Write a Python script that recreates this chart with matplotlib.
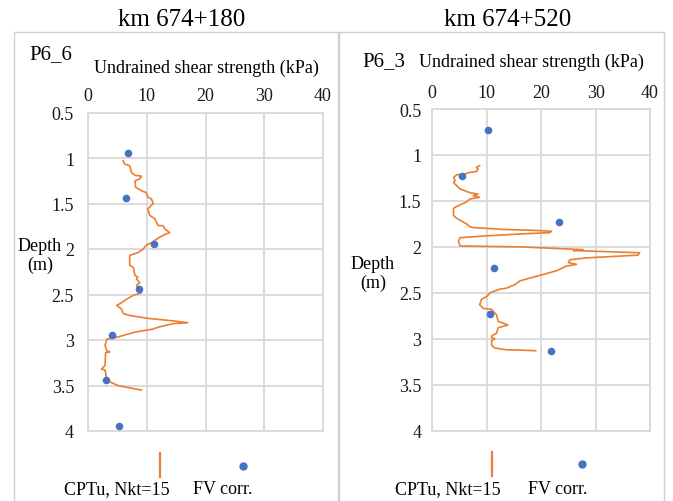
import matplotlib
matplotlib.use("Agg")
import matplotlib.pyplot as plt
from matplotlib.patches import Rectangle
from matplotlib.lines import Line2D

plt.rcParams['font.family'] = ['Liberation Serif', 'DejaVu Serif']

# ---------------- data ----------------
titles = ["km 674+180", "km 674+520"]
profiles = ["P6_6", "P6_3"]
x_label = "Undrained shear strength (kPa)"
y_label = "Depth\n(m)"
x_ticks = [0, 10, 20, 30, 40]
y_ticks = [0.5, 1, 1.5, 2, 2.5, 3, 3.5, 4]
y_tick_labels = ["0.5", "1", "1.5", "2", "2.5", "3", "3.5", "4"]
legend_labels = ["CPTu, Nkt=15", "FV corr."]

# Left panel (P6_6) CPTu trace
cptu1_su = [6.0, 6.2, 7.1, 7.4, 8.0, 9.1, 8.8, 8.0, 8.1, 9.1, 9.9, 10.2, 10.8, 11.1,
            10.5, 10.2, 10.5, 11.4, 11.9, 12.8, 13.1, 13.9, 13.1, 12.2, 10.8, 9.9,
            9.4, 8.5, 8.0, 7.1, 7.1, 7.7, 8.0, 8.5, 8.25, 8.8, 8.25, 8.7, 9.1, 7.7,
            6.6, 5.7, 4.9, 5.7, 6.0, 7.1, 9.9, 14.5, 17.0, 14.5, 11.9, 11.1, 8.25,
            7.1, 4.9, 3.2, 2.9, 3.2, 3.7, 3.0, 2.9, 2.3, 2.9, 3.2, 3.7, 5.1, 6.6, 9.1]
cptu1_depth = [1.03, 1.066, 1.085, 1.16, 1.19, 1.20, 1.23, 1.25, 1.32, 1.36, 1.38, 1.43,
               1.45, 1.50, 1.54, 1.56, 1.63, 1.67, 1.74, 1.745, 1.78, 1.82, 1.84, 1.87,
               1.93, 1.96, 2.00, 2.04, 2.05, 2.07, 2.18, 2.20, 2.29, 2.31, 2.33, 2.37,
               2.40, 2.46, 2.48, 2.51, 2.55, 2.59, 2.62, 2.66, 2.71, 2.73, 2.76, 2.79,
               2.81, 2.82, 2.86, 2.88, 2.91, 2.93, 2.97, 2.99, 3.06, 3.12, 3.13, 3.14,
               3.28, 3.32, 3.33, 3.43, 3.46, 3.50, 3.52, 3.55]
# Left panel FV points
fv1_su = [6.8, 6.5, 11.2, 8.6, 4.1, 3.1, 5.3]
fv1_depth = [0.94, 1.44, 1.94, 2.44, 2.94, 3.44, 3.94]

# Right panel (P6_3) CPTu trace
cptu2_su = [8.7, 8.1, 8.4, 8.1, 6.9, 5.7, 4.5, 3.9, 4.2, 3.9, 4.5, 5.1, 6.9, 8.4, 7.5,
            8.7, 6.9, 6.3, 5.4, 4.5, 3.9, 3.9, 4.5, 5.4, 6.3, 6.9, 7.5, 13.0, 18.5,
            21.9, 21.6, 16.1, 10.0, 5.1, 4.8, 5.1, 16.1, 27.7, 25.9, 38.1, 37.8, 28.3,
            25.3, 25.0, 26.5, 24.6, 22.8, 20.4, 17.9, 16.1, 15.2, 13.6, 12.4, 10.6,
            10.0, 9.05, 8.7, 9.4, 10.9, 11.8, 12.1, 13.9, 12.1, 11.8, 10.9, 10.9,
            11.5, 10.9, 10.9, 11.5, 13.6, 16.1, 19.0]
cptu2_depth = [1.117, 1.135, 1.153, 1.18, 1.19, 1.21, 1.215, 1.244, 1.28, 1.30, 1.335,
               1.37, 1.41, 1.426, 1.444, 1.46, 1.48, 1.51, 1.535, 1.56, 1.58, 1.66,
               1.69, 1.72, 1.75, 1.78, 1.79, 1.81, 1.82, 1.83, 1.845, 1.86, 1.88, 1.90,
               1.94, 1.99, 2.00, 2.03, 2.04, 2.064, 2.09, 2.12, 2.14, 2.17, 2.19, 2.21,
               2.26, 2.30, 2.34, 2.37, 2.41, 2.45, 2.46, 2.50, 2.54, 2.57, 2.63, 2.67,
               2.68, 2.74, 2.81, 2.85, 2.88, 2.94, 2.97, 2.99, 3.00, 3.02, 3.07, 3.10,
               3.12, 3.123, 3.13]
# Right panel FV points
fv2_su = [10.2, 5.4, 23.2, 11.3, 10.6, 21.9]
fv2_depth = [0.73, 1.23, 1.73, 2.23, 2.73, 3.13]

ORANGE = "#ED7D31"
BLUE = "#4472C4"
GRID = "#d9d9d9"

W, H = 673, 502
fig = plt.figure(figsize=(W / 100, H / 100), dpi=100)

def fx(px):
    return px / W

def fy(py):
    return 1 - py / H

# panel boxes
for x0, x1 in [(14, 338), (339, 664)]:
    fig.patches.append(Rectangle((fx(x0), fy(520)), fx(x1) - fx(x0), fy(33) - fy(520),
                                 transform=fig.transFigure, fill=False,
                                 edgecolor="#d0d0d0", linewidth=1.0))

panels = [
    dict(ax=(88, 113.5, 323, 432), su=cptu1_su, d=cptu1_depth, fsu=fv1_su, fd=fv1_depth,
         title_xy=(182, 20), prof_xy=(51, 55), xlab_xy=(206, 68), depth_xy=(40, 256),
         leg_line=(160, 454, 478), leg_dot=(243, 467), leg_t1=(117, 490), leg_t2=(223, 490),
         ypad=10),
    dict(ax=(432.3, 110, 650, 431.7), su=cptu2_su, d=cptu2_depth, fsu=fv2_su, fd=fv2_depth,
         title_xy=(508, 20), prof_xy=(384, 62), xlab_xy=(531, 62), depth_xy=(373, 274),
         leg_line=(492, 453, 477), leg_dot=(582, 465), leg_t1=(448, 490), leg_t2=(558, 490),
         ypad=8),
]

for i, p in enumerate(panels):
    x0, y0, x1, y1 = p["ax"]
    ax = fig.add_axes([fx(x0), fy(y1), fx(x1) - fx(x0), fy(y0) - fy(y1)])
    ax.plot(p["su"], p["d"], color=ORANGE, linewidth=1.2, zorder=3)
    ax.scatter(p["fsu"], p["fd"], s=30, color=BLUE, zorder=4, linewidths=0)
    ax.set_xlim(0, 40)
    ax.set_ylim(4, 0.5)
    ax.set_xticks(x_ticks)
    ax.set_yticks(y_ticks)
    ax.set_yticklabels(y_tick_labels)
    ax.xaxis.tick_top()
    ax.tick_params(axis="both", length=0, labelsize=13, colors="#1a1a1a")
    ax.tick_params(axis="x", pad=6)
    ax.tick_params(axis="y", pad=p["ypad"])
    ax.grid(True, color=GRID, linewidth=1.3)
    ax.set_axisbelow(True)
    for s in ax.spines.values():
        s.set_color(GRID)
        s.set_linewidth(1.3)

    fig.text(fx(p["title_xy"][0]), fy(p["title_xy"][1]), titles[i], fontsize=18,
             ha="center", va="center")
    fig.text(fx(p["prof_xy"][0]), fy(p["prof_xy"][1]), profiles[i], fontsize=15,
             ha="center", va="center")
    fig.text(fx(p["xlab_xy"][0]), fy(p["xlab_xy"][1]), x_label, fontsize=13,
             ha="center", va="center")
    fig.text(fx(p["depth_xy"][0]), fy(p["depth_xy"][1]), y_label, fontsize=13,
             ha="center", va="center", linespacing=1.2)

    lx, ly0, ly1 = p["leg_line"]
    fig.lines.append(Line2D([fx(lx), fx(lx)], [fy(ly0), fy(ly1)], transform=fig.transFigure,
                            color=ORANGE, linewidth=1.6))
    fig.lines.append(Line2D([fx(p["leg_dot"][0])], [fy(p["leg_dot"][1])],
                            transform=fig.transFigure, marker="o", markersize=5,
                            color=BLUE, linestyle="none"))
    fig.text(fx(p["leg_t1"][0]), fy(p["leg_t1"][1]), legend_labels[0], fontsize=13,
             ha="center", va="center")
    fig.text(fx(p["leg_t2"][0]), fy(p["leg_t2"][1]), legend_labels[1], fontsize=13,
             ha="center", va="center")

fig.savefig("out.png", dpi=100)
